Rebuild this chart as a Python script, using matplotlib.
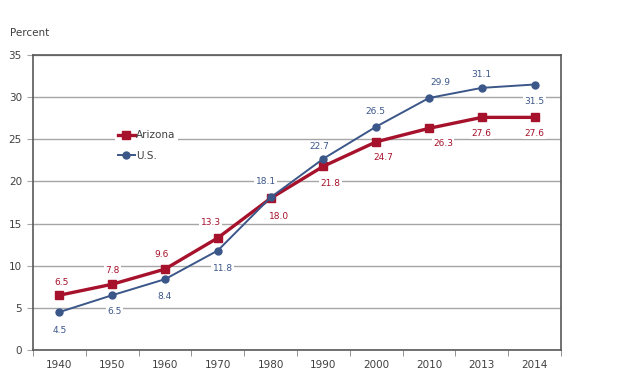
import matplotlib.pyplot as plt
import numpy as np

years = ['1940', '1950', '1960', '1970', '1980', '1990', '2000', '2010', '2013', '2014']
arizona = [6.5, 7.8, 9.6, 13.3, 18.0, 21.8, 24.7, 26.3, 27.6, 27.6]
us = [4.5, 6.5, 8.4, 11.8, 18.1, 22.7, 26.5, 29.9, 31.1, 31.5]

# label offsets in pixels (dx, dy), dy positive = up
az_off = [(2, 13), (0, 14), (-3, 15), (-7, 15), (8, -18), (7, -17), (7, -16), (14, -15), (0, -16), (0, -16)]
us_off = [(0, -18), (2, -16), (-1, -17), (5, -18), (-5, 16), (-4, 12), (-1, 15), (11, 15), (0, 13), (0, -17)]

red = '#A6112B'
blue = '#3B5688'

fig = plt.figure(figsize=(6.24, 3.78), dpi=100)
ax = fig.add_axes([33 / 624, 28 / 378, 528 / 624, 295 / 378])
x = np.arange(len(years))

ax.set_axisbelow(True)
ax.grid(axis='y', color='#A6A6A6', linewidth=1.0)
ax.plot(x, arizona, color=red, linewidth=2.4, marker='s', markersize=5.5, label='Arizona', zorder=3)
ax.plot(x, us, color=blue, linewidth=1.4, marker='o', markersize=5, label='U.S.', zorder=4)

px = 72 / 100
for i in range(len(x)):
    ax.annotate(f'{arizona[i]:.1f}', (x[i], arizona[i]), xytext=(az_off[i][0] * px, az_off[i][1] * px),
                textcoords='offset points', ha='center', va='center', fontsize=6.5, color=red,
                bbox=dict(boxstyle='square,pad=0.15', fc='white', ec='none'), zorder=2)
    ax.annotate(f'{us[i]:.1f}', (x[i], us[i]), xytext=(us_off[i][0] * px, us_off[i][1] * px),
                textcoords='offset points', ha='center', va='center', fontsize=6.5, color=blue,
                bbox=dict(boxstyle='square,pad=0.15', fc='white', ec='none'), zorder=2)

ax.set_xlim(-0.5, len(years) - 0.5)
ax.set_ylim(0, 35)
ax.set_yticks(range(0, 36, 5))
ax.set_xticks(x)
ax.set_xticklabels(years)
ax.set_xticks(np.arange(-0.5, len(years), 1), minor=True)
ax.tick_params(axis='x', which='major', length=0, labelsize=7.5, labelcolor='#404040', pad=7)
ax.tick_params(axis='x', which='minor', length=4, color='#808080', direction='out')
ax.tick_params(axis='y', length=4, color='#A6A6A6', labelsize=7.5, labelcolor='#404040', pad=4)
for s in ax.spines.values():
    s.set_color('#595959')
    s.set_linewidth(1.2)

leg = ax.legend(loc='upper left', bbox_to_anchor=(0.155, 0.755), frameon=True, fontsize=7.5,
                handlelength=1.6, handletextpad=0.1, labelspacing=1.0, borderpad=0.3, borderaxespad=0)
leg.get_frame().set_edgecolor('none')
leg.get_frame().set_facecolor('white')
leg.get_frame().set_alpha(1)
for t in leg.get_texts():
    t.set_color('#404040')

fig.text(10 / 624, 1 - 33 / 378, 'Percent', fontsize=7.5, color='#404040', va='center', ha='left')

fig.savefig('out.png', dpi=100)
